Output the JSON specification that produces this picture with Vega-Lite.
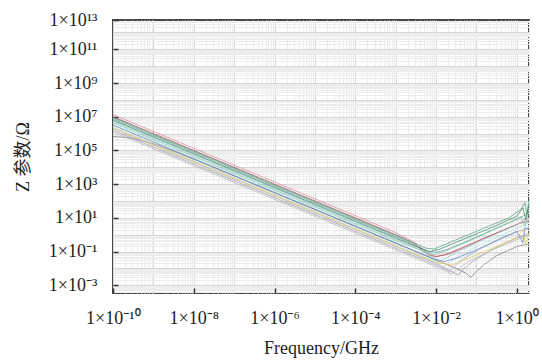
{
  "$schema": "https://vega.github.io/schema/vega-lite/v6.json",
  "width": 416,
  "height": 273,
  "autosize": "none",
  "padding": {"left": 113, "top": 20, "right": 13, "bottom": 69},
  "background": "white",
  "config": {
    "view": {"stroke": "#474747", "strokeWidth": 2},
    "font": "Liberation Serif",
    "axis": {"labelFont": "Liberation Serif, Noto Sans", "titleFont": "Liberation Serif, Noto Sans CJK SC", "labelColor": "#1e1e1e", "titleColor": "#1e1e1e", "labelFontSize": 18, "titleFontSize": 18, "titleFontWeight": "normal"}
  },
  "data": {"values": [
    {"s":"L1","f":1e-10,"z":1.349e7},{"s":"L1","f":1e-3,"z":1.349},{"s":"L1","f":3.162e-3,"z":0.3162},{"s":"L1","f":6.31e-3,"z":7.943e-2},{"s":"L1","f":1e-2,"z":5.012e-2},{"s":"L1","f":1.585e-2,"z":6.31e-2},{"s":"L1","f":3.162e-2,"z":0.1259},{"s":"L1","f":0.1,"z":0.3981},{"s":"L1","f":0.3162,"z":1.259},{"s":"L1","f":1,"z":3.981},{"s":"L1","f":1.585,"z":7.943},{"s":"L1","f":1.995,"z":10},
    {"s":"L2","f":1e-10,"z":1e7},{"s":"L2","f":1e-3,"z":1},{"s":"L2","f":2.512e-3,"z":0.3548},{"s":"L2","f":4.467e-3,"z":0.1259},{"s":"L2","f":6.31e-3,"z":6.31e-2},{"s":"L2","f":1e-2,"z":5.012e-2},{"s":"L2","f":1.995e-2,"z":7.079e-2},{"s":"L2","f":5.012e-2,"z":0.1778},{"s":"L2","f":0.1585,"z":0.631},{"s":"L2","f":0.5012,"z":1.995},{"s":"L2","f":1.259,"z":5.012},{"s":"L2","f":1.995,"z":6.31},
    {"s":"L3","f":1e-10,"z":7.586e6},{"s":"L3","f":1e-3,"z":0.7586},{"s":"L3","f":3.162e-3,"z":0.2239},{"s":"L3","f":6.31e-3,"z":0.1},{"s":"L3","f":1e-2,"z":8.913e-2},{"s":"L3","f":1.995e-2,"z":0.1413},{"s":"L3","f":6.31e-2,"z":0.4467},{"s":"L3","f":0.2512,"z":1.995},{"s":"L3","f":1,"z":7.943},{"s":"L3","f":1.995,"z":19.95},
    {"s":"L4","f":1e-10,"z":5.37e6},{"s":"L4","f":1e-3,"z":0.537},{"s":"L4","f":3.981e-3,"z":0.1259},{"s":"L4","f":7.943e-3,"z":5.012e-2},{"s":"L4","f":1.122e-2,"z":2.512e-2},{"s":"L4","f":1.585e-2,"z":3.548e-2},{"s":"L4","f":3.162e-2,"z":8.913e-2},{"s":"L4","f":0.1,"z":0.3162},{"s":"L4","f":0.3162,"z":1.122},{"s":"L4","f":1,"z":3.981},{"s":"L4","f":1.995,"z":7.943},
    {"s":"L5","f":1e-10,"z":3.548e6},{"s":"L5","f":1e-3,"z":0.3548},{"s":"L5","f":5.012e-3,"z":6.31e-2},{"s":"L5","f":1e-2,"z":2.512e-2},{"s":"L5","f":1.413e-2,"z":1.122e-2},{"s":"L5","f":1.995e-2,"z":1.995e-2},{"s":"L5","f":3.981e-2,"z":6.31e-2},{"s":"L5","f":0.1259,"z":0.2512},{"s":"L5","f":0.3981,"z":0.8913},{"s":"L5","f":1.995,"z":5.012},
    {"s":"L6","f":1e-10,"z":2.512e6},{"s":"L6","f":1e-3,"z":0.2512},{"s":"L6","f":6.31e-3,"z":3.548e-2},{"s":"L6","f":1.259e-2,"z":1.585e-2},{"s":"L6","f":1.778e-2,"z":7.943e-3},{"s":"L6","f":2.512e-2,"z":1.413e-2},{"s":"L6","f":6.31e-2,"z":6.31e-2},{"s":"L6","f":0.2512,"z":0.3162},{"s":"L6","f":1.995,"z":3.162},
    {"s":"L7","f":1e-10,"z":6.761e5},{"s":"L7","f":2.512e-10,"z":5.623e5},{"s":"L7","f":5.012e-10,"z":3.981e5},{"s":"L7","f":1e-9,"z":2.512e5},{"s":"L7","f":2.512e-9,"z":1.122e5},{"s":"L7","f":1e-8,"z":3.02e4},{"s":"L7","f":1e-3,"z":0.3162},{"s":"L7","f":1e-2,"z":3.162e-2},{"s":"L7","f":3.162e-2,"z":1e-2},{"s":"L7","f":5.623e-2,"z":5.012e-3},{"s":"L7","f":7.244e-2,"z":2.884e-3},{"s":"L7","f":9.333e-2,"z":5.623e-3},{"s":"L7","f":0.1585,"z":1.778e-2},{"s":"L7","f":0.3162,"z":5.623e-2},{"s":"L7","f":1,"z":0.1995},{"s":"L7","f":1.995,"z":0.2818},
    {"s":"L8","f":1e-10,"z":1.585e6},{"s":"L8","f":1e-3,"z":0.1585},{"s":"L8","f":1e-2,"z":1.585e-2},{"s":"L8","f":2.512e-2,"z":6.31e-3},{"s":"L8","f":3.548e-2,"z":3.981e-3},{"s":"L8","f":4.467e-2,"z":7.943e-3},{"s":"L8","f":7.943e-2,"z":2.512e-2},{"s":"L8","f":0.1995,"z":0.1},{"s":"L8","f":0.5012,"z":0.3162},{"s":"L8","f":1.995,"z":1.259},
    {"s":"L9","f":1e-10,"z":1.995e6},{"s":"L9","f":1e-3,"z":0.1995},{"s":"L9","f":1e-2,"z":1.995e-2},{"s":"L9","f":1.778e-2,"z":1e-2},{"s":"L9","f":2.089e-2,"z":6.31e-3},{"s":"L9","f":2.818e-2,"z":1.259e-2},{"s":"L9","f":5.012e-2,"z":3.981e-2},{"s":"L9","f":0.1585,"z":0.1995},{"s":"L9","f":0.5012,"z":0.7943},{"s":"L9","f":1.995,"z":2.512},
    {"s":"L10","f":1e-10,"z":8.913e6},{"s":"L10","f":1e-3,"z":0.8913},{"s":"L10","f":3.162e-3,"z":0.2818},{"s":"L10","f":5.623e-3,"z":0.1585},{"s":"L10","f":8.913e-3,"z":0.1413},{"s":"L10","f":1.585e-2,"z":0.2512},{"s":"L10","f":5.012e-2,"z":0.7943},{"s":"L10","f":0.1995,"z":3.162},{"s":"L10","f":0.631,"z":10},{"s":"L10","f":1.259,"z":31.62},{"s":"L10","f":1.585,"z":79.43},{"s":"L10","f":1.778,"z":15.85},{"s":"L10","f":1.995,"z":100},
    {"s":"L11","f":1e-10,"z":6.31e6},{"s":"L11","f":1e-3,"z":0.631},{"s":"L11","f":3.981e-3,"z":0.1585},{"s":"L11","f":7.079e-3,"z":0.1},{"s":"L11","f":1.259e-2,"z":0.1413},{"s":"L11","f":3.162e-2,"z":0.3548},{"s":"L11","f":0.1,"z":1.122},{"s":"L11","f":0.3162,"z":3.548},{"s":"L11","f":1,"z":12.59},{"s":"L11","f":1.413,"z":39.81},{"s":"L11","f":1.66,"z":7.943},{"s":"L11","f":1.995,"z":63.1},
    {"s":"L12","f":1e-10,"z":4.467e6},{"s":"L12","f":1e-3,"z":0.4467},{"s":"L12","f":5.012e-3,"z":0.1},{"s":"L12","f":8.913e-3,"z":6.31e-2},{"s":"L12","f":1.585e-2,"z":0.1},{"s":"L12","f":5.012e-2,"z":0.3162},{"s":"L12","f":0.1995,"z":1.413},{"s":"L12","f":0.631,"z":5.012},{"s":"L12","f":1.259,"z":12.59},{"s":"L12","f":1.585,"z":3.162},{"s":"L12","f":1.995,"z":25.12},
    {"s":"L13","f":1e-10,"z":3.162e6},{"s":"L13","f":1e-3,"z":0.3162},{"s":"L13","f":7.943e-3,"z":3.981e-2},{"s":"L13","f":1.585e-2,"z":2.512e-2},{"s":"L13","f":3.162e-2,"z":3.981e-2},{"s":"L13","f":0.1,"z":0.1259},{"s":"L13","f":0.3162,"z":0.4467},{"s":"L13","f":1,"z":1.585},{"s":"L13","f":1.413,"z":0.3162},{"s":"L13","f":1.585,"z":2.512},{"s":"L13","f":1.995,"z":1.995},
    {"s":"L14","f":1e-10,"z":2.239e6},{"s":"L14","f":1e-3,"z":0.2239},{"s":"L14","f":1e-2,"z":2.239e-2},{"s":"L14","f":2.512e-2,"z":1.585e-2},{"s":"L14","f":6.31e-2,"z":3.981e-2},{"s":"L14","f":0.2512,"z":0.1585},{"s":"L14","f":1,"z":0.631},{"s":"L14","f":1.413,"z":1.995},{"s":"L14","f":1.66,"z":0.2512},{"s":"L14","f":1.995,"z":1.259},
    {"s":"L15","f":1e-10,"z":1.259e6},{"s":"L15","f":1e-3,"z":0.1259},{"s":"L15","f":1.585e-2,"z":7.943e-3},{"s":"L15","f":2.512e-2,"z":4.467e-3},{"s":"L15","f":3.162e-2,"z":7.943e-3},{"s":"L15","f":6.31e-2,"z":2.512e-2},{"s":"L15","f":0.2512,"z":0.1259},{"s":"L15","f":1,"z":0.5012},{"s":"L15","f":1.995,"z":1}
  ]},
  "layer": [
    {
      "mark": {"type": "line", "opacity": 0},
      "encoding": {
        "x": {"field": "f", "type": "quantitative", "scale": {"type": "log", "domain": [1e-10, 2], "nice": false},
          "axis": {"orient": "top", "grid": true, "tickCount": 50, "labels": false, "ticks": false, "domain": false, "title": null,
            "gridColor": {"condition": {"test": "abs(log(datum.value)/LN10 - round(log(datum.value)/LN10)) < 0.001", "value": "#d6d6d6"}, "value": "#ededed"}, "gridWidth": 1}},
        "y": {"field": "z", "type": "quantitative", "scale": {"type": "log", "domain": [3.467e-4, 5.495e12], "nice": false},
          "axis": {"orient": "right", "grid": true, "tickCount": 50, "labels": false, "ticks": false, "domain": false, "title": null,
            "gridColor": {"condition": {"test": "abs(log(datum.value)/LN10 - round(log(datum.value)/LN10)) < 0.001", "value": "#d6d6d6"}, "value": "#ededed"}, "gridWidth": 1}},
        "detail": {"field": "s", "type": "nominal"}
      }
    },
    {
      "mark": {"type": "line", "strokeWidth": 0.9, "opacity": 0.8},
      "encoding": {
        "x": {"field": "f", "type": "quantitative", "scale": {"type": "log", "domain": [1e-10, 2], "nice": false},
          "axis": {"orient": "bottom", "values": [1e-10, 1e-8, 1e-6, 1e-4, 1e-2, 1], "grid": false, "domain": false,
            "labelExpr": "datum.value < 1e-9 ? '1×10⁻¹⁰' : datum.value < 1e-7 ? '1×10⁻⁸' : datum.value < 1e-5 ? '1×10⁻⁶' : datum.value < 1e-3 ? '1×10⁻⁴' : datum.value < 0.1 ? '1×10⁻²' : '1×10⁰'",
            "tickSize": -5, "tickColor": "#333333", "tickWidth": 1.5, "labelPadding": 21, "labelFlush": false, "labelOverlap": false,
            "title": "Frequency/GHz", "titlePadding": 12}},
        "y": {"field": "z", "type": "quantitative", "scale": {"type": "log", "domain": [3.467e-4, 5.495e12], "nice": false},
          "axis": {"orient": "left", "values": [1e-3, 1e-1, 10, 1e3, 1e5, 1e7, 1e9, 1e11, 5.495e12], "grid": false, "domain": false,
            "labelExpr": "datum.value < 1e-2 ? '1×10⁻³' : datum.value < 1 ? '1×10⁻¹' : datum.value < 100 ? '1×10¹' : datum.value < 1e4 ? '1×10³' : datum.value < 1e6 ? '1×10⁵' : datum.value < 1e8 ? '1×10⁷' : datum.value < 1e10 ? '1×10⁹' : datum.value < 1e12 ? '1×10¹¹' : '1×10¹³'",
            "tickSize": -5, "tickColor": "#333333", "tickWidth": 1.5, "labelPadding": 21, "labelFlush": false, "labelOverlap": false,
            "title": "Z 参数/Ω", "titlePadding": 16}},
        "color": {"field": "s", "type": "nominal", "legend": null,
          "scale": {"domain": ["L1","L2","L3","L4","L5","L6","L7","L8","L9","L10","L11","L12","L13","L14","L15"],
                    "range": ["#d9879e","#a5434f","#5e9e9e","#8ccbd3","#ace0e4","#c2e8ea","#85738f","#9a98a8","#bca9c7","#4a9e73","#357f5e","#7cc39c","#6282c0","#d8cb4e","#b4b4b4"]}}
      }
    }
  ],
  "resolve": {"axis": {"x": "independent", "y": "independent"}}
}
